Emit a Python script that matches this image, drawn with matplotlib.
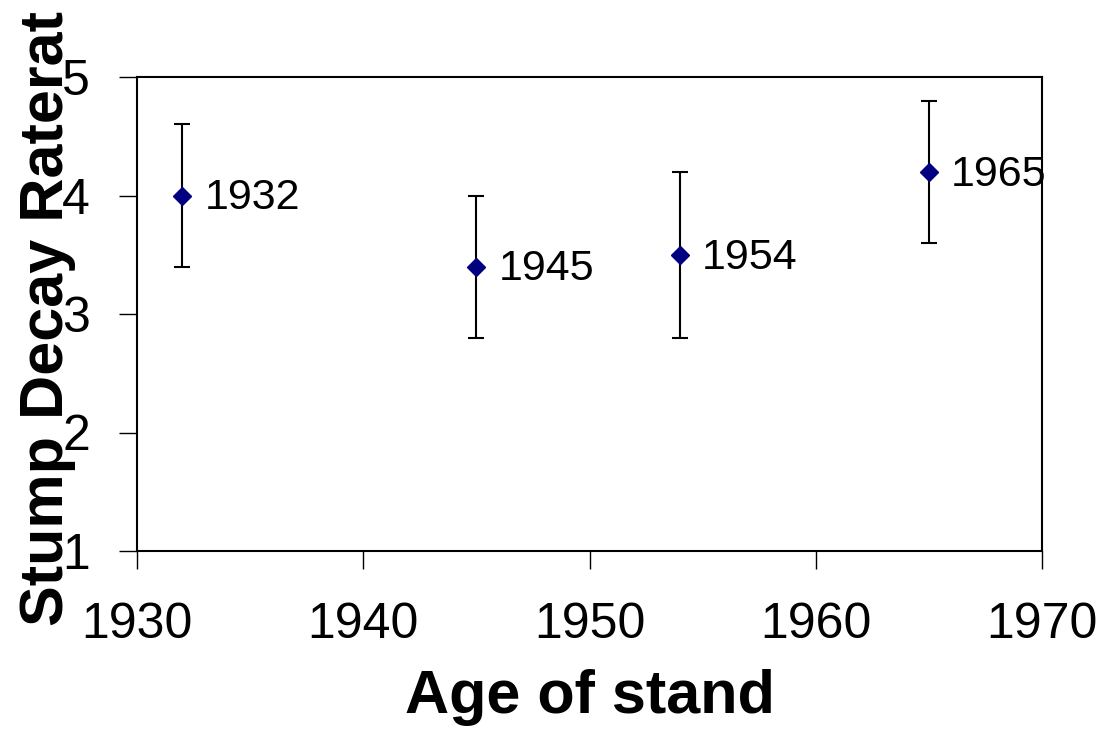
import matplotlib
matplotlib.use("Agg")
import matplotlib.pyplot as plt

years = [1932, 1945, 1954, 1965]
rates = [4.0, 3.4, 3.5, 4.2]
errors = [0.6, 0.6, 0.7, 0.6]
point_labels = ["1932", "1945", "1954", "1965"]
xticks = [1930, 1940, 1950, 1960, 1970]
yticks = [1, 2, 3, 4, 5]

plt.rcParams['font.family'] = ['Liberation Sans', 'DejaVu Sans']

fig = plt.figure(figsize=(11.04, 7.29), dpi=100)
ax = fig.add_axes([137/1104, 1 - 551/729, (1042-137)/1104, (551-77)/729])

ax.errorbar(years, rates, yerr=errors, fmt='D', color='#000080', markersize=9,
            ecolor='black', elinewidth=1.5, capsize=6, capthick=1.5, zorder=3)
for x, y, t in zip(years, rates, point_labels):
    ax.annotate(t, (x, y), xytext=(16, -2), textcoords='offset points',
                ha='left', va='center', fontsize=31, color='black')

ax.set_xlim(1930, 1970)
ax.set_ylim(1, 5)
ax.set_xticks(xticks)
ax.set_yticks(yticks)
ax.tick_params(axis='both', direction='out', length=13, width=1, labelsize=36,
               color='black')
ax.tick_params(axis='x', pad=24)
ax.tick_params(axis='y', pad=21)
for s in ax.spines.values():
    s.set_linewidth(1.5)

fig.text(48/1104, 1 - 319/729, "Stump Decay Raterat", rotation=90, ha='center',
         va='center', fontsize=44, fontweight='bold', zorder=1)
fig.text(590/1104, 1 - 698/729, "Age of stand", ha='center', va='center',
         fontsize=44, fontweight='bold')

fig.savefig("out.png", dpi=100)
